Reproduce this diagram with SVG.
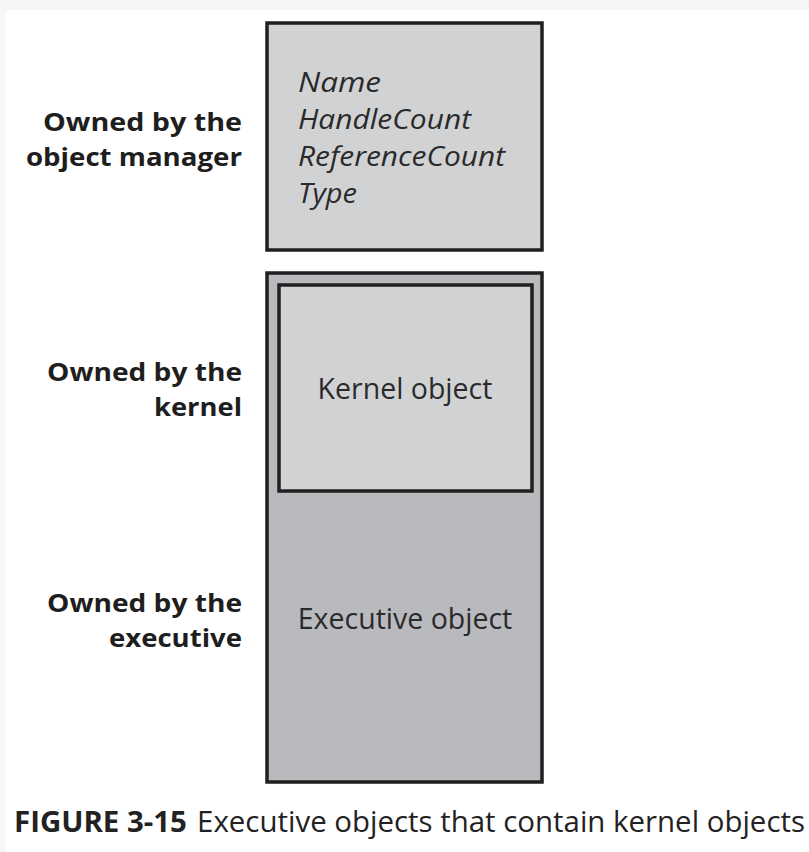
<svg xmlns="http://www.w3.org/2000/svg" width="809" height="852" viewBox="0 0 809 852">
<style>
.lbl{font-family:"Open Sans","Noto Sans","Liberation Sans",sans-serif;font-weight:bold;font-size:25.5px;fill:#1e1e1e;text-anchor:end}
.it{font-family:"Open Sans","Noto Sans","Liberation Sans",sans-serif;font-style:italic;font-size:26.5px;fill:#2a2a2a}
.txt{font-family:"Open Sans","Noto Sans","Liberation Sans",sans-serif;font-size:28.5px;fill:#2a2a2a;text-anchor:middle}
.box{stroke:#1f1f1f;stroke-width:3.5}
</style>
<rect x="0" y="0" width="809" height="852" fill="#ffffff"/>
<rect x="0" y="0" width="809" height="10" fill="#f5f5f5"/>
<rect x="0" y="0" width="6" height="852" fill="#f7f7f7"/>
<g id="labels">
<text class="lbl" x="242" y="131" textLength="199" lengthAdjust="spacingAndGlyphs">Owned by the</text>
<text class="lbl" x="242" y="166" textLength="216" lengthAdjust="spacingAndGlyphs">object manager</text>
<text class="lbl" x="242" y="381" textLength="195" lengthAdjust="spacingAndGlyphs">Owned by the</text>
<text class="lbl" x="242" y="416" textLength="88" lengthAdjust="spacingAndGlyphs">kernel</text>
<text class="lbl" x="242" y="612" textLength="195" lengthAdjust="spacingAndGlyphs">Owned by the</text>
<text class="lbl" x="242" y="647" textLength="133" lengthAdjust="spacingAndGlyphs">executive</text>
</g>
<g id="header">
<rect class="box" x="267" y="23" width="275" height="227" fill="#d1d2d4"/>
<text class="it" x="298" y="92" textLength="83" lengthAdjust="spacingAndGlyphs">Name</text>
<text class="it" x="298" y="129" textLength="173" lengthAdjust="spacingAndGlyphs">HandleCount</text>
<text class="it" x="298" y="166" textLength="207" lengthAdjust="spacingAndGlyphs">ReferenceCount</text>
<text class="it" x="298" y="203" textLength="59" lengthAdjust="spacingAndGlyphs">Type</text>
</g>
<g id="executive">
<rect class="box" x="267" y="273" width="275" height="509" fill="#b9babd"/>
<text class="txt" x="405" y="629">Executive object</text>
</g>
<g id="kernel">
<rect class="box" x="279" y="285" width="253" height="206" fill="#d1d2d4"/>
<text class="txt" x="405" y="399">Kernel object</text>
</g>
<g id="connectors"></g>
<g id="caption">
<text x="14" y="832" font-family="'Open Sans','Noto Sans','Liberation Sans',sans-serif" font-size="29" fill="#222" textLength="791" lengthAdjust="spacingAndGlyphs"><tspan font-weight="bold">FIGURE 3-15</tspan><tspan dx="10">Executive objects that contain kernel objects</tspan></text>
</g>
</svg>
